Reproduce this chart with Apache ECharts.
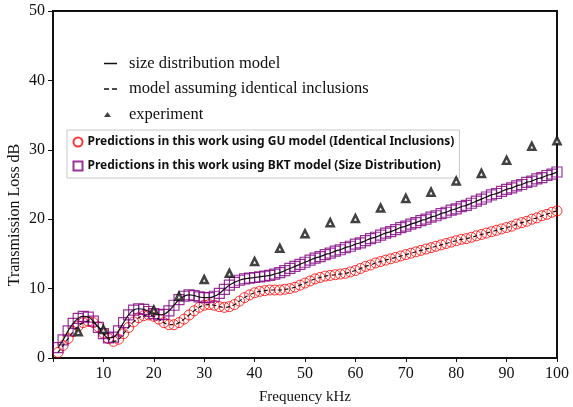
<!DOCTYPE html>
<html>
<head>
<meta charset="utf-8">
<script src="https://cdn.jsdelivr.net/npm/echarts@6/dist/echarts.min.js"></script>
<style>html,body{margin:0;padding:0;background:#fff;}#c{width:573px;height:407px;}</style>
</head>
<body>
<div id="c"></div>
<script>
// Frequencies (kHz) of the prediction markers
const freqs = [1,2,3,4,5,6,7,8,9,10,11,12,13,14,15,16,17,18,19,20,21,22,23,24,25,26,27,28,29,30,31,32,33,34,35,36,37,38,39,40,41,42,43,44,45,46,47,48,49,50,51,52,53,54,55,56,57,58,59,60,61,62,63,64,65,66,67,68,69,70,71,72,73,74,75,76,77,78,79,80,81,82,83,84,85,86,87,88,89,90,91,92,93,94,95,96,97,98,99,100];
// BKT model (size distribution) – purple squares / solid line
const bktValues = [1.5,2.6,3.9,5.0,5.7,6.0,5.9,5.3,4.4,3.5,2.9,3.0,3.9,5.1,6.2,6.9,7.1,7.0,6.7,6.4,6.2,6.3,6.8,7.6,8.4,8.9,9.1,9.0,8.8,8.7,8.7,8.9,9.3,9.9,10.5,10.9,11.2,11.4,11.5,11.6,11.7,11.8,11.9,12.1,12.3,12.6,12.9,13.2,13.5,13.8,14.1,14.4,14.6,14.9,15.1,15.4,15.6,15.9,16.1,16.4,16.6,16.9,17.2,17.4,17.7,18.0,18.2,18.5,18.8,19.0,19.3,19.5,19.8,20.0,20.3,20.5,20.8,21.0,21.3,21.5,21.8,22.0,22.3,22.6,22.9,23.2,23.5,23.7,24.0,24.3,24.5,24.8,25.0,25.3,25.5,25.8,26.0,26.3,26.5,26.8];
// GU model (identical inclusions) – red circles / dashed line
const guValues = [0.8,1.8,2.8,3.8,4.6,5.1,5.3,5.1,4.5,3.6,2.8,2.4,2.7,3.5,4.4,5.2,5.8,6.1,6.2,6.0,5.6,5.1,4.8,4.8,5.1,5.6,6.2,6.8,7.3,7.6,7.7,7.6,7.4,7.3,7.4,7.7,8.2,8.7,9.1,9.4,9.6,9.7,9.8,9.8,9.8,9.9,10.0,10.2,10.5,10.8,11.1,11.4,11.6,11.8,11.9,12.0,12.1,12.2,12.4,12.6,12.9,13.2,13.4,13.7,13.9,14.1,14.3,14.5,14.7,14.9,15.1,15.3,15.5,15.7,15.9,16.1,16.3,16.5,16.7,16.9,17.1,17.2,17.4,17.6,17.8,18.0,18.2,18.4,18.6,18.8,19.0,19.3,19.5,19.7,20.0,20.2,20.5,20.7,21.0,21.2];
// Experiment
const expFreqs = [5,10,20,25,30,35,40,45,50,55,60,65,70,75,80,85,90,95,100];
const expValues = [3.8,4.1,6.9,8.9,11.3,12.2,13.9,15.8,17.9,19.5,20.1,21.6,23.0,23.9,25.5,26.6,28.5,30.5,31.3];
// Axis ticks
const xTicks = [10,20,30,40,50,60,70,80,90,100];
const yTicks = [0,10,20,30,40,50];

const names = {
  sizeDist: 'size distribution model',
  identical: 'model assuming identical inclusions',
  exp: 'experiment',
  gu: 'Predictions in this work using GU model (Identical Inclusions)',
  bkt: 'Predictions in this work using BKT model (Size Distribution)'
};
const pair = (xs, ys) => xs.map((x, i) => [x, ys[i]]);
const serif = 'Liberation Serif, Times New Roman, serif';
// legend icons (bounding box 15 x 10 kept by tiny corner marks)
const frame = 'M0,0 L0.01,0 L0.01,0.01 Z M15,10 L14.99,10 L14.99,9.99 Z ';
const iconSolid = 'path://' + frame + 'M1,4.3 L14,4.3 L14,5.7 L1,5.7 Z';
const iconDashed = 'path://' + frame + 'M1,4.3 L6,4.3 L6,5.7 L1,5.7 Z M9,4.3 L14,4.3 L14,5.7 L9,5.7 Z';
const iconTri = 'path://' + frame + 'M4.5,2.5 L8,7.5 L1,7.5 Z';

const chart = echarts.init(document.getElementById('c'), null, {renderer: 'canvas'});
chart.setOption({
  animation: false,
  backgroundColor: '#fff',
  grid: {left: 53, right: 16, top: 11, bottom: 49, outerBoundsMode: 'none', containLabel: false,
    show: true, borderColor: '#111', borderWidth: 2, backgroundColor: 'transparent'},
  xAxis: {
    type: 'value', min: 0, max: 100, interval: 10,
    name: 'Frequency kHz', nameLocation: 'middle', nameGap: 32,
    nameTextStyle: {fontFamily: serif, fontSize: 15, color: '#111'},
    axisLine: {lineStyle: {color: '#111', width: 2}},
    axisTick: {show: true, length: 4, lineStyle: {color: '#111'}},
    axisLabel: {fontFamily: serif, fontSize: 16, color: '#111', margin: 8,
      formatter: v => xTicks.indexOf(v) >= 0 ? String(v) : ''},
    splitLine: {show: false}
  },
  yAxis: {
    type: 'value', min: 0, max: 50, interval: 10,
    axisLine: {show: true, lineStyle: {color: '#111', width: 2}},
    axisTick: {show: true, length: 5, lineStyle: {color: '#111'}},
    axisLabel: {fontFamily: serif, fontSize: 16, color: '#111', margin: 8,
      formatter: v => yTicks.indexOf(v) >= 0 ? String(v) : ''},
    splitLine: {show: false}
  },
  graphic: [{
    type: 'text', x: 15, y: 215, rotation: Math.PI / 2,
    style: {text: 'Transmission Loss dB', font: '16px ' + serif, fill: '#111', align: 'center', verticalAlign: 'middle'}
  }],
  legend: [{
    orient: 'vertical', left: 103, top: 55, itemWidth: 15, itemHeight: 10, itemGap: 8.5, padding: 0,
    selectedMode: false,
    textStyle: {fontFamily: serif, fontSize: 16.5, color: '#111', padding: [0, 0, 0, 6]},
    data: [
      {name: names.sizeDist, icon: iconSolid, itemStyle: {color: '#111', borderWidth: 0}},
      {name: names.identical, icon: iconDashed, itemStyle: {color: '#111', borderWidth: 0}},
      {name: names.exp, icon: iconTri, itemStyle: {color: '#111', borderWidth: 0}}
    ]
  }, {
    orient: 'vertical', left: 67, top: 130, itemWidth: 9, itemHeight: 9, itemGap: 10,
    padding: [5, 5, 5, 4], borderColor: '#c8c8c8', borderWidth: 1, selectedMode: false,
    textStyle: {fontFamily: 'Noto Sans, sans-serif', fontWeight: 'bold', fontSize: 12, color: '#111'},
    data: [{name: names.gu}, {name: names.bkt}]
  }],
  series: [
    {
      name: names.gu, type: 'scatter', data: pair(freqs, guValues),
      symbol: 'circle', symbolSize: 10, z: 2,
      itemStyle: {color: 'none', borderColor: '#ff0000', borderWidth: 1}
    },
    {
      name: names.bkt, type: 'scatter', data: pair(freqs, bktValues),
      symbol: 'rect', symbolSize: 10, z: 2,
      itemStyle: {color: 'none', borderColor: '#800080', borderWidth: 1.2}
    },
    {
      name: names.sizeDist, type: 'line', data: pair(freqs, bktValues), smooth: true,
      symbol: 'none', z: 3, lineStyle: {color: '#111', width: 1.2}, itemStyle: {color: '#111'}
    },
    {
      name: names.identical, type: 'line', data: pair(freqs, guValues), smooth: true,
      symbol: 'none', z: 3, lineStyle: {color: '#111', width: 1.2, type: [4, 3]}, itemStyle: {color: '#111'}
    },
    {
      name: names.exp, type: 'scatter', data: pair(expFreqs, expValues),
      symbol: 'triangle', symbolSize: 7, z: 4,
      itemStyle: {color: '#fff', borderColor: '#111', borderWidth: 2.5}
    }
  ]
});
</script>
</body>
</html>
